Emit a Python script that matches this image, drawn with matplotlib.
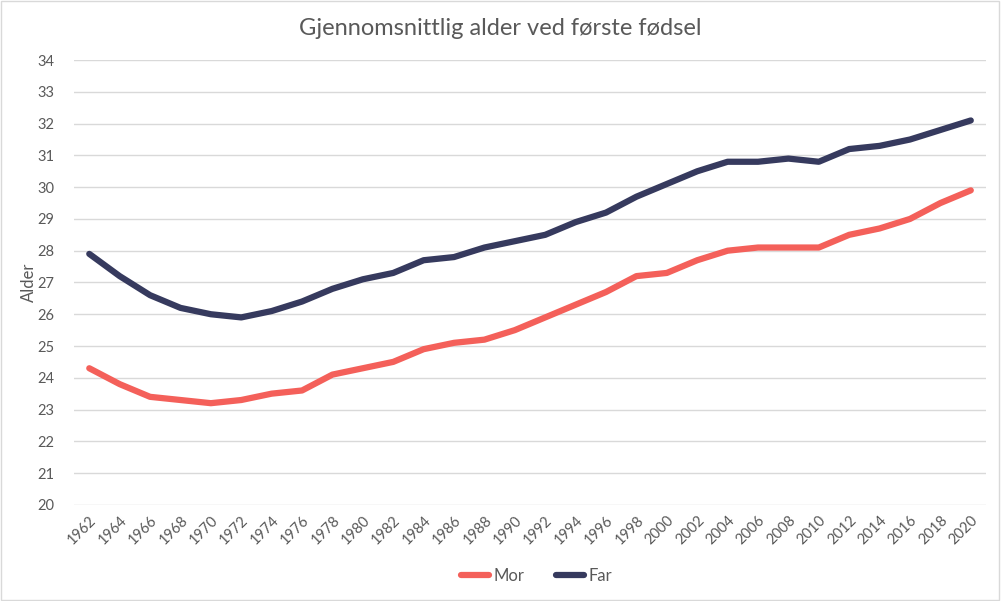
import matplotlib
matplotlib.use("Agg")
import matplotlib.pyplot as plt
from matplotlib.patches import Rectangle

years = list(range(1962, 2021, 2))
far = [27.9, 27.2, 26.6, 26.2, 26.0, 25.9, 26.1, 26.4, 26.8, 27.1, 27.3, 27.7, 27.8, 28.1, 28.3,
       28.5, 28.9, 29.2, 29.7, 30.1, 30.5, 30.8, 30.8, 30.9, 30.8, 31.2, 31.3, 31.5, 31.8, 32.1]
mor = [24.3, 23.8, 23.4, 23.3, 23.2, 23.3, 23.5, 23.6, 24.1, 24.3, 24.5, 24.9, 25.1, 25.2, 25.5,
       25.9, 26.3, 26.7, 27.2, 27.3, 27.7, 28.0, 28.1, 28.1, 28.1, 28.5, 28.7, 29.0, 29.5, 29.9]
title = "Gjennomsnittlig alder ved første fødsel"

plt.rcParams['font.family'] = ['Lato', 'DejaVu Sans']

fig = plt.figure(figsize=(10.01, 6.01), dpi=100)
ax = fig.add_axes([0.074, 0.160, 0.911, 0.740])

c_mor = "#F4605A"
c_far = "#363A5E"
ax.plot(years, mor, color=c_mor, lw=4.5, label="Mor", solid_capstyle="round", solid_joinstyle="round")
ax.plot(years, far, color=c_far, lw=4.5, label="Far", solid_capstyle="round", solid_joinstyle="round")

ax.set_xlim(1961, 2021)
ax.set_ylim(20, 34)
ax.set_yticks(range(20, 35))
ax.set_xticks(years)
ax.set_xticklabels([str(y) for y in years], rotation=45, ha="right", rotation_mode="anchor")
ax.tick_params(axis="both", length=0, labelsize=10.5, labelcolor="#595959")
ax.tick_params(axis="y", pad=14)
ax.tick_params(axis="x", pad=6)
ax.grid(axis="y", color="#D9D9D9", lw=1)
ax.set_axisbelow(True)
for s in ax.spines.values():
    s.set_visible(False)

ax.set_ylabel("Alder", fontsize=12, color="#595959", va="center")
ax.yaxis.set_label_coords(-0.049, 0.5)
fig.text(0.5, 0.952, title, ha="center", va="center", fontsize=17, color="#595959")

leg = fig.legend(loc="center", bbox_to_anchor=(0.536, 0.042), ncol=2, frameon=False,
                 fontsize=12, handlelength=1.7, columnspacing=1.9, handletextpad=0.25)
for t in leg.get_texts():
    t.set_color("#595959")

fig.patches.append(Rectangle((0.001, 0.001), 0.997, 0.997, transform=fig.transFigure,
                             fill=False, edgecolor="#D9D9D9", lw=1))

fig.savefig("out.png", dpi=100, facecolor="white")
